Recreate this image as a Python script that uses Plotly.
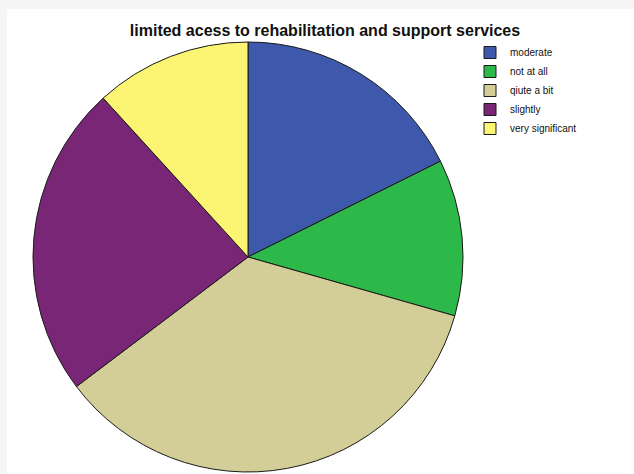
import plotly.graph_objects as go

# Response categories and their counts
labels = ["moderate", "not at all", "qiute a bit", "slightly", "very significant"]
counts = [3, 2, 6, 4, 2]
colors = ["#3e58ac", "#2db84a", "#d3ce97", "#7a2677", "#fbf573"]

W, H = 634, 474

fig = go.Figure(
    go.Pie(
        labels=labels,
        values=counts,
        sort=False,
        direction="clockwise",
        rotation=0,
        marker=dict(colors=colors, line=dict(color="#1a1a1a", width=1)),
        textinfo="none",
        hoverinfo="label+value+percent",
        domain=dict(x=[14 / W, 482 / W], y=[1 - 472 / H, 1 - 42 / H]),
    )
)

fig.update_layout(
    width=W,
    height=H,
    margin=dict(l=0, r=0, t=0, b=0),
    paper_bgcolor="#f5f5f5",
    plot_bgcolor="white",
    title=dict(
        text="<b>limited acess to rehabilitation and support services</b>",
        x=325 / W,
        xanchor="center",
        y=1 - 30 / H,
        yanchor="middle",
        font=dict(family="Liberation Sans, Arial", size=16, color="#111111"),
    ),
    legend=dict(
        x=470 / W,
        y=1 - 38 / H,
        xanchor="left",
        yanchor="top",
        font=dict(family="Liberation Sans, Arial", size=10, color="#111111"),
        bgcolor="rgba(0,0,0,0)",
        itemwidth=30,
        tracegroupgap=0,
    ),
    shapes=[
        dict(
            type="rect",
            xref="paper",
            yref="paper",
            x0=7 / W,
            x1=1,
            y0=0,
            y1=1 - 9 / H,
            fillcolor="white",
            line=dict(width=0),
            layer="below",
        )
    ],
)

fig.write_html("out.html")
